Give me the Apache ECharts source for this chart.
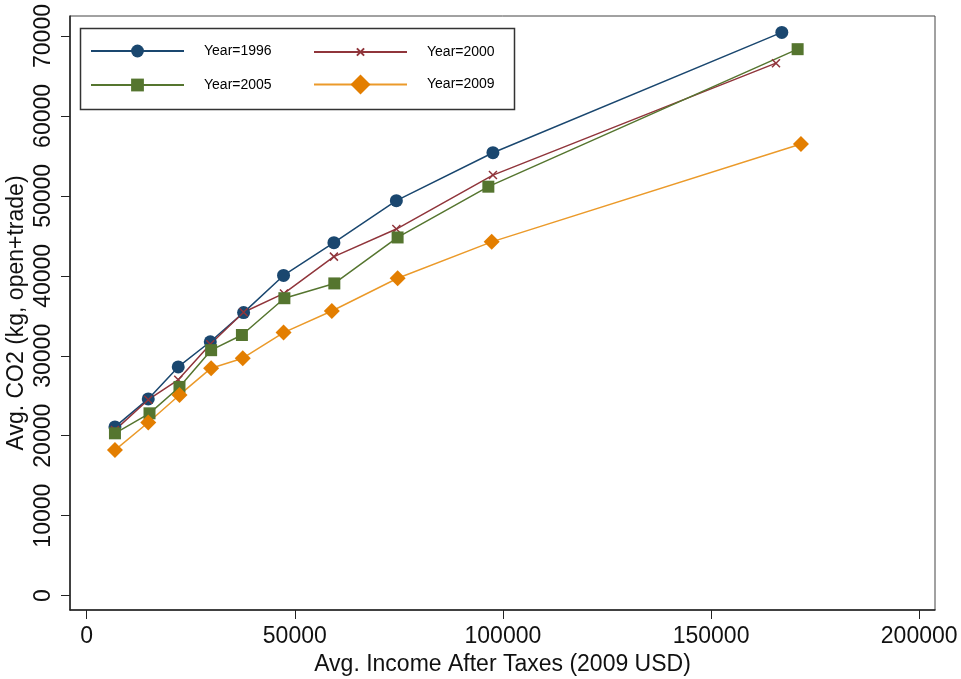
<!DOCTYPE html>
<html>
<head>
<meta charset="utf-8">
<script src="https://cdn.jsdelivr.net/npm/echarts@6/dist/echarts.min.js"></script>
<style>
html,body{margin:0;padding:0;background:#fff;}
#chart{width:961px;height:679px;}
</style>
</head>
<body>
<div id="chart"></div>
<script>
// ---- data ----
const seriesNames = ['Year=1996', 'Year=2000', 'Year=2005', 'Year=2009'];
const inc1996 = [6800, 14800, 22000, 29700, 37700, 47300, 59400, 74400, 97600, 167000];
const inc2000 = [6800, 14800, 22000, 29700, 37700, 47400, 59400, 74400, 97600, 165600];
const inc2005 = [6800, 15100, 22300, 29900, 37300, 47500, 59500, 74700, 96500, 170800];
const inc2009 = [6800, 14800, 22300, 29900, 37500, 47300, 58900, 74700, 97300, 171600];
const co2_1996 = [21100, 24600, 28600, 31750, 35400, 40050, 44150, 49400, 55400, 70450];
const co2_2000 = [20700, 24500, 27000, 31450, 35450, 37800, 42400, 45850, 52600, 66600];
const co2_2005 = [20300, 22800, 26100, 30700, 32600, 37200, 39050, 44800, 51150, 68350];
const co2_2009 = [18200, 21650, 25100, 28450, 29700, 32900, 35600, 39700, 44250, 56500];
const xTicks = [0, 50000, 100000, 150000, 200000];
const yTicks = [0, 10000, 20000, 30000, 40000, 50000, 60000, 70000];
const xTitle = 'Avg. Income After Taxes (2009 USD)';
const yTitle = 'Avg. CO2 (kg, open+trade)';

const pairs = (xs, ys) => xs.map((x, i) => [x, ys[i]]);
const FONT = "'Liberation Sans', Arial, Helvetica, sans-serif";
const colors = ['#1a476f', '#90353b', '#55752f', '#e37e00'];

const chart = echarts.init(document.getElementById('chart'), null, {renderer: 'canvas'});

function legendFor(name, left, center, h) {
  return {
    data: [name],
    left: left,
    top: center - Math.max(h, 14) / 2,
    orient: 'horizontal',
    padding: 0,
    itemWidth: 93,
    itemHeight: h,
    selectedMode: false,
    textStyle: {fontFamily: FONT, fontSize: 14, color: '#000', padding: [0, 0, 0, 15]}
  };
}

const option = {
  animation: false,
  backgroundColor: '#fff',
  grid: {
    left: 70, right: 26, top: 16, bottom: 69,
    containLabel: false, outerBoundsMode: 'none',
    show: true, borderColor: '#444', borderWidth: 1, backgroundColor: 'transparent'
  },
  legend: [
    legendFor(seriesNames[0], 90, 52, 16),
    legendFor(seriesNames[1], 313, 52, 9),
    legendFor(seriesNames[2], 90, 86, 16),
    legendFor(seriesNames[3], 313, 87, 25)
  ],
  graphic: [{
    type: 'rect', left: 78, top: 26, z: 10,
    shape: {width: 434, height: 81},
    style: {fill: 'none', stroke: '#333', lineWidth: 1.5}
  }],
  xAxis: {
    type: 'value', min: -4000, max: 203800,
    name: xTitle, nameLocation: 'middle', nameGap: 40,
    nameTextStyle: {fontFamily: FONT, fontSize: 23, color: '#111'},
    axisLine: {show: true, onZero: false, lineStyle: {color: '#222', width: 1.5}},
    axisTick: {show: true, length: 9, customValues: xTicks, lineStyle: {color: '#222', width: 1}},
    axisLabel: {customValues: xTicks, margin: 15, fontFamily: FONT, fontSize: 23, color: '#111',
      formatter: v => String(v)},
    splitLine: {show: false}
  },
  yAxis: {
    type: 'value', min: -1800, max: 72500,
    name: yTitle, nameLocation: 'middle', nameGap: 42, nameMoveOverlap: false,
    nameTextStyle: {fontFamily: FONT, fontSize: 23, color: '#111'},
    axisLine: {show: true, onZero: false, lineStyle: {color: '#222', width: 1.5}},
    axisTick: {show: true, length: 9, customValues: yTicks, lineStyle: {color: '#222', width: 1}},
    axisLabel: {customValues: yTicks, rotate: 90, margin: 15, fontFamily: FONT, fontSize: 23, color: '#111',
      formatter: v => String(v)},
    splitLine: {show: false}
  },
  series: [
    {
      name: seriesNames[0], type: 'line', data: pairs(inc1996, co2_1996),
      symbol: 'circle', symbolSize: 13, showAllSymbol: true,
      lineStyle: {color: colors[0], width: 1.5},
      itemStyle: {color: colors[0]}
    },
    {
      name: seriesNames[1], type: 'line', data: pairs(inc2000, co2_2000),
      symbol: 'path://M0,0L10,10M0,10L10,0', symbolSize: 8, showAllSymbol: true,
      lineStyle: {color: colors[1], width: 1.5},
      itemStyle: {color: colors[1], borderColor: colors[1], borderWidth: 1.5}
    },
    {
      name: seriesNames[2], type: 'line', data: pairs(inc2005, co2_2005),
      symbol: 'rect', symbolSize: 12, showAllSymbol: true,
      lineStyle: {color: colors[2], width: 1.5},
      itemStyle: {color: colors[2]}
    },
    {
      name: seriesNames[3], type: 'line', data: pairs(inc2009, co2_2009),
      symbol: 'diamond', symbolSize: 16, showAllSymbol: true,
      lineStyle: {color: '#eb9a2a', width: 1.5},
      itemStyle: {color: colors[3]}
    }
  ]
};
chart.setOption(option);
</script>
</body>
</html>
